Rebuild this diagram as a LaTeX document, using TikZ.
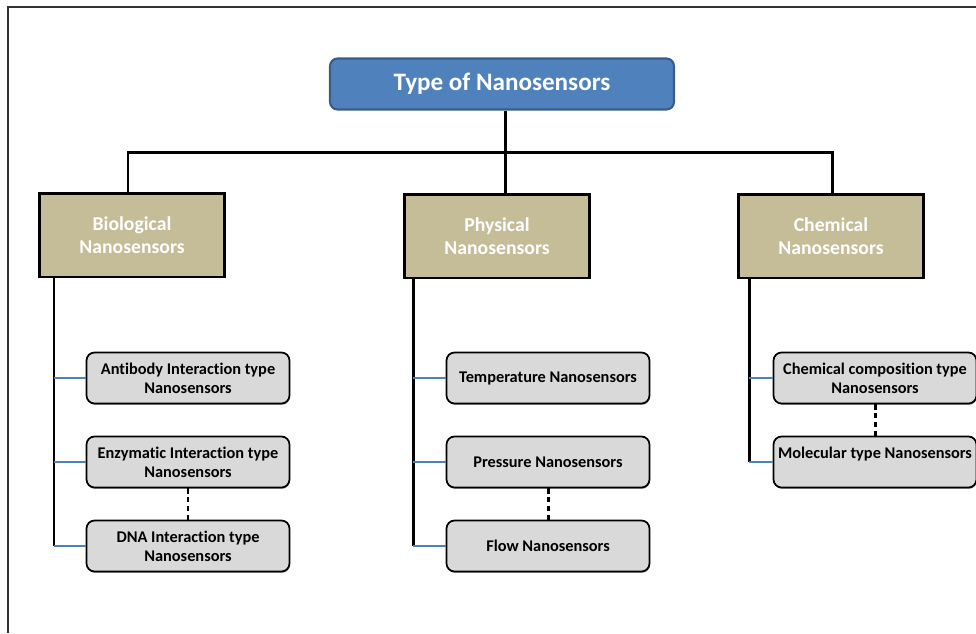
\documentclass[tikz,border=0pt]{standalone}
\usepackage{fontspec}
\setmainfont{Carlito}[Ligatures=NoCommon]
\usetikzlibrary{shadows}
\definecolor{topblue}{HTML}{4F81BD}
\definecolor{topedge}{HTML}{385D8A}
\definecolor{tan}{HTML}{C4BD97}
\definecolor{lightgray}{HTML}{D9D9D9}
\tikzset{
  topbox/.style={draw=topedge, line width=1.2pt, rounded corners=1.5mm, fill=topblue, text=white,
    minimum width=6.88cm, minimum height=1.02cm, font=\fontsize{14.3}{16}\selectfont\bfseries},
  catbox/.style={draw=black, line width=1.7pt, fill=tan, text=white, align=center,
    minimum width=3.7cm, minimum height=1.68cm, font=\fontsize{11.2}{12.8}\selectfont\bfseries},
  leafbox/.style={draw=black, line width=1pt, rounded corners=1.6mm, fill=lightgray, align=center,
    minimum width=4.06cm, minimum height=1.02cm, inner sep=1pt,
    drop shadow={shadow xshift=0.3pt, shadow yshift=-0.8pt, fill=black!70},
    font=\fontsize{9.3}{10.8}\selectfont\bfseries},
  tree/.style={draw=black, line width=1.7pt},
  twig/.style={draw=topblue, line width=1.4pt},
  gap/.style={draw=black, line width=1.7pt, dash pattern=on 3pt off 2pt}
}
\begin{document}
\begin{tikzpicture}[x=0.02cm, y=-0.02cm]
  \useasboundingbox (0,0) rectangle (976,633);
  % frame
  \draw[line width=0.8pt, black!80] (8,633) -- (8,7) -- (976,7);

  % root
  \node[topbox] (root) at (502,84) {Type of Nanosensors};

  % categories
  \node[catbox] (bio) at (132,235) {Biological\\Nanosensors};
  \node[catbox] (phys) at (497,236) {Physical\\Nanosensors};
  \node[catbox] (chem) at (831,236) {Chemical\\Nanosensors};

  % root to categories
  \coordinate (split) at (505,152);
  \draw[tree] (root.south -| split) -- (split);
  \draw[tree] (bio.north -| 128,0) |- (split) -| (chem.north -| 832,0);
  \draw[tree] (split) -- (phys.north -| split);

  % biological leaves
  \node[leafbox] (antibody) at (188,378) {Antibody Interaction type\\Nanosensors};
  \node[leafbox] (enzyme) at (188,462) {Enzymatic Interaction type\\Nanosensors};
  \node[leafbox] (dna) at (188,546) {DNA Interaction type\\Nanosensors};

  % physical leaves
  \node[leafbox] (temp) at (548,378) {Temperature Nanosensors};
  \node[leafbox] (press) at (548,462) {Pressure Nanosensors};
  \node[leafbox] (flow) at (548,546) {Flow Nanosensors};

  % chemical leaves
  \node[leafbox] (compo) at (875,378) {Chemical composition type\\Nanosensors};
  \node[leafbox] (molec) at (875,462) {Molecular type Nanosensors\\\mbox{}};

  % spines
  \coordinate (biospine) at (54,546);
  \coordinate (physspine) at (413,546);
  \coordinate (chemspine) at (749,462);
  \draw[tree] (bio.south -| biospine) -- (biospine);
  \draw[tree] (phys.south -| physspine) -- (physspine);
  \draw[tree] (chem.south -| chemspine) -- (chemspine);

  % spine to leaves
  \foreach \leaf in {antibody,enzyme,dna}
    \draw[twig] (\leaf.west -| biospine) -- (\leaf.west);
  \foreach \leaf in {temp,press,flow}
    \draw[twig] (\leaf.west -| physspine) -- (\leaf.west);
  \foreach \leaf in {compo,molec}
    \draw[twig] (\leaf.west -| chemspine) -- (\leaf.west);

  % dashed gaps
  \draw[gap] (enzyme.south) -- (dna.north);
  \draw[gap] (press.south) -- (flow.north);
  \draw[gap] (compo.south) -- (molec.north);
\end{tikzpicture}
\end{document}
